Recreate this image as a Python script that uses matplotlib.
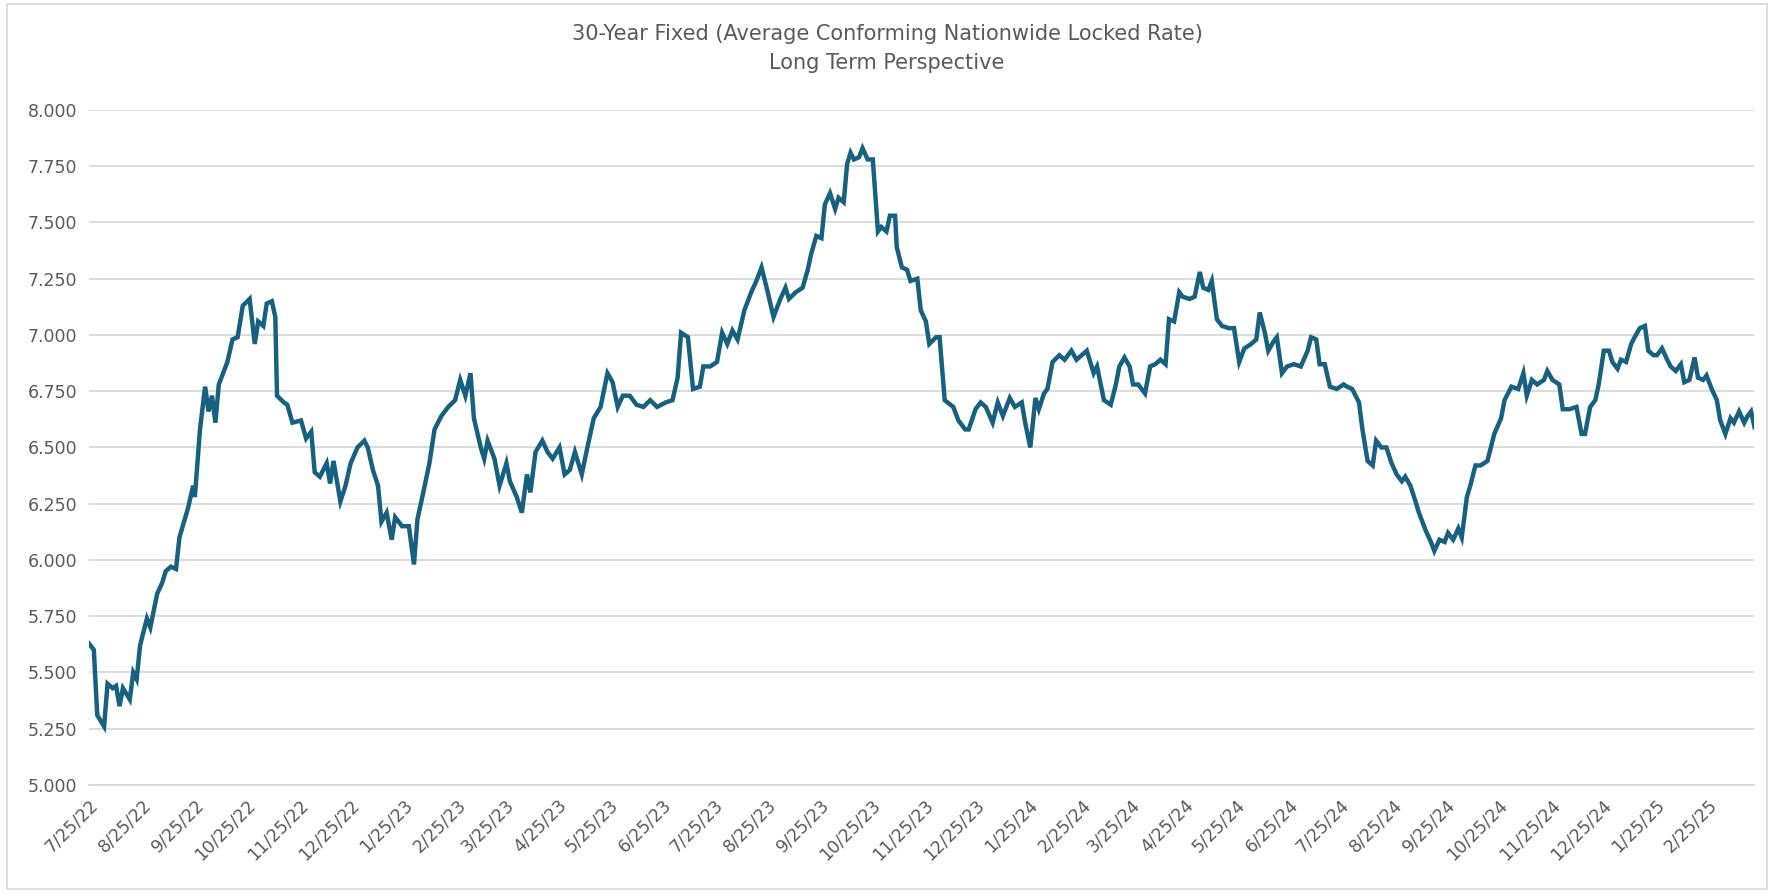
import numpy as np
import pandas as pd
import matplotlib.pyplot as plt
from matplotlib.patches import Rectangle

start = pd.Timestamp('2022-07-25')
days = [0, 3, 5, 9, 11, 14, 16, 18, 20, 24, 26, 28, 30, 34, 36, 40, 43, 45, 48, 51, 53, 58, 61, 62, 65, 68, 70, 72, 74, 76,
        81, 84, 87, 90, 94, 97, 99, 102, 104, 107, 109, 110, 114, 116, 119, 124, 127, 130, 132, 135, 139, 141, 143, 147, 150,
        153, 157, 161, 163, 166, 169, 171, 174, 177, 179, 183, 187, 190, 192, 196, 199, 202, 206, 210, 214, 217, 220, 223, 225,
        229, 231, 233, 237, 240, 244, 246, 250, 253, 256, 258, 261, 265, 268, 271, 275, 278, 281, 284, 288, 291, 295, 299, 303,
        306, 309, 312, 316, 320, 324, 328, 332, 337, 341, 344, 346, 350, 353, 357, 359, 363, 367, 370, 373, 376, 379, 383, 387,
        390, 393, 396, 400, 404, 407, 409, 413, 417, 420, 422, 425, 428, 430, 433, 436, 438, 441, 443, 445, 447, 450, 452, 455,
        458, 461, 463, 466, 468, 471, 472, 475, 478, 480, 484, 486, 489, 491, 495, 497, 500, 505, 508, 512, 514, 518, 521, 524,
        528, 531, 534, 538, 541, 545, 547, 550, 553, 555, 558, 560, 563, 567, 570, 574, 577, 580, 583, 587, 589, 593, 597, 600,
        602, 605, 608, 610, 613, 617, 620, 623, 626, 629, 631, 634, 637, 639, 643, 646, 649, 651, 654, 656, 659, 662, 666, 669,
        672, 675, 679, 682, 684, 687, 689, 692, 694, 697, 700, 704, 708, 712, 714, 717, 719, 722, 725, 729, 733, 735, 738, 742,
        744, 747, 750, 752, 755, 758, 761, 764, 767, 769, 772, 775, 777, 781, 784, 786, 789, 792, 794, 797, 800, 802, 805, 807,
        810, 813, 817, 821, 825, 827, 831, 835, 838, 840, 843, 846, 850, 852, 855, 859, 861, 865, 869, 872, 874, 877, 880, 882,
        885, 888, 890, 893, 895, 898, 901, 903, 906, 909, 911, 914, 916, 919, 922, 924, 927, 930, 932, 935, 938, 940, 943, 945,
        948, 951, 953, 956, 959, 961, 964, 967, 969, 971, 973]
rates = [5.63, 5.60, 5.31, 5.26, 5.45, 5.43, 5.44, 5.35, 5.43, 5.38, 5.50, 5.47, 5.62, 5.74, 5.70, 5.85, 5.90, 5.95, 5.97, 5.96,
         6.10, 6.23, 6.33, 6.28, 6.58, 6.77, 6.66, 6.73, 6.61, 6.78, 6.88, 6.98, 6.99, 7.13, 7.16, 6.96, 7.06, 7.04, 7.14, 7.15,
         7.08, 6.73, 6.70, 6.69, 6.61, 6.62, 6.54, 6.57, 6.39, 6.37, 6.43, 6.34, 6.44, 6.26, 6.33, 6.43, 6.50, 6.53, 6.50, 6.40,
         6.33, 6.17, 6.21, 6.09, 6.19, 6.15, 6.15, 5.98, 6.18, 6.32, 6.43, 6.58, 6.64, 6.68, 6.71, 6.80, 6.73, 6.83, 6.63, 6.50,
         6.45, 6.53, 6.45, 6.33, 6.43, 6.35, 6.28, 6.21, 6.38, 6.30, 6.48, 6.53, 6.48, 6.45, 6.50, 6.38, 6.40, 6.48, 6.38, 6.49,
         6.63, 6.68, 6.83, 6.79, 6.68, 6.73, 6.73, 6.69, 6.68, 6.71, 6.68, 6.70, 6.71, 6.81, 7.01, 6.99, 6.76, 6.77, 6.86, 6.86,
         6.88, 7.01, 6.96, 7.02, 6.98, 7.11, 7.19, 7.24, 7.30, 7.21, 7.08, 7.16, 7.21, 7.16, 7.19, 7.21, 7.29, 7.36, 7.44, 7.43,
         7.58, 7.63, 7.56, 7.61, 7.59, 7.76, 7.81, 7.78, 7.79, 7.83, 7.78, 7.78, 7.46, 7.48, 7.46, 7.53, 7.53, 7.39, 7.30, 7.29,
         7.24, 7.25, 7.11, 7.06, 6.96, 6.99, 6.99, 6.71, 6.68, 6.62, 6.58, 6.58, 6.67, 6.70, 6.68, 6.61, 6.70, 6.64, 6.72, 6.68,
         6.70, 6.61, 6.50, 6.72, 6.67, 6.74, 6.76, 6.88, 6.91, 6.89, 6.93, 6.89, 6.91, 6.93, 6.83, 6.86, 6.71, 6.69, 6.78, 6.86,
         6.90, 6.86, 6.78, 6.78, 6.74, 6.86, 6.87, 6.89, 6.87, 7.07, 7.06, 7.19, 7.17, 7.16, 7.17, 7.28, 7.21, 7.20, 7.24, 7.07,
         7.04, 7.03, 7.03, 6.88, 6.94, 6.96, 6.98, 7.10, 7.01, 6.93, 6.97, 6.99, 6.83, 6.86, 6.87, 6.86, 6.93, 6.99, 6.98, 6.87,
         6.87, 6.77, 6.76, 6.78, 6.77, 6.76, 6.70, 6.58, 6.44, 6.42, 6.53, 6.50, 6.50, 6.43, 6.38, 6.35, 6.37, 6.33, 6.26, 6.21,
         6.13, 6.08, 6.04, 6.09, 6.08, 6.12, 6.09, 6.14, 6.10, 6.28, 6.33, 6.42, 6.42, 6.44, 6.56, 6.63, 6.71, 6.77, 6.76, 6.83,
         6.73, 6.80, 6.78, 6.80, 6.84, 6.80, 6.78, 6.67, 6.67, 6.68, 6.56, 6.56, 6.68, 6.71, 6.78, 6.93, 6.93, 6.88, 6.85, 6.89,
         6.88, 6.96, 6.99, 7.03, 7.04, 6.93, 6.91, 6.91, 6.94, 6.89, 6.86, 6.84, 6.87, 6.79, 6.80, 6.90, 6.81, 6.80, 6.82, 6.76,
         6.71, 6.62, 6.56, 6.63, 6.61, 6.66, 6.61, 6.64, 6.66, 6.59]

dates = start + pd.to_timedelta(days, unit='D')
tick_dates = pd.date_range('2022-07-01', '2025-02-01', freq='MS') + pd.Timedelta(days=24)

fig = plt.figure(figsize=(17.74, 8.94), dpi=100)
fig.patches.append(Rectangle((0.004, 0.006), 0.992, 0.99, transform=fig.transFigure,
                             fill=False, edgecolor='#d9d9d9', linewidth=1.2))
ax = fig.add_axes([0.05, 0.122, 0.939, 0.755])
ax.plot(dates, rates, color='#17607f', linewidth=3.2, solid_joinstyle='miter')

ax.set_ylim(5, 8)
ax.set_yticks(np.arange(5, 8.01, 0.25))
ax.yaxis.set_major_formatter(plt.FuncFormatter(lambda v, p: f'{v:.3f}'))
ax.set_xlim(start, start + pd.Timedelta(days=973))
ax.set_xticks(tick_dates)
ax.set_xticklabels([f'{d.month}/{d.day}/{d.year % 100}' for d in tick_dates], rotation=45, ha='right',
                   rotation_mode='anchor')
ax.tick_params(axis='both', length=0, labelsize=12.5, colors='#595959', pad=8)
ax.grid(axis='y', color='#d9d9d9', linewidth=1.3)
ax.set_axisbelow(True)
for s in ['top', 'right', 'left']:
    ax.spines[s].set_visible(False)
ax.spines['bottom'].set_color('#d9d9d9')
ax.spines['bottom'].set_linewidth(1.3)

fig.text(0.5, 0.962, '30-Year Fixed (Average Conforming Nationwide Locked Rate)', ha='center', va='center',
         fontsize=15, color='#595959')
fig.text(0.5, 0.929, 'Long Term Perspective', ha='center', va='center', fontsize=15, color='#595959')

fig.savefig('out.png', dpi=100)
